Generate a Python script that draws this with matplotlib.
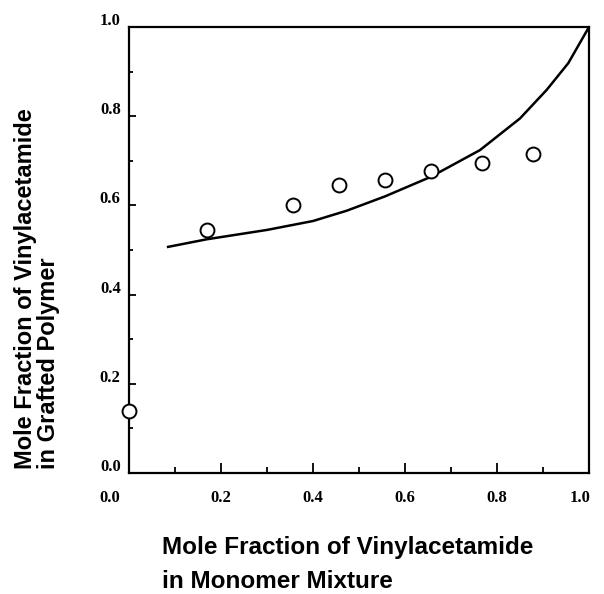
import matplotlib
matplotlib.use("Agg")
from matplotlib import pyplot as plt
from matplotlib.transforms import ScaledTranslation
from matplotlib.ticker import MultipleLocator
import numpy as np

# measured points: monomer feed fraction vs. fraction in grafted polymer
feed_x = [0.0, 0.169, 0.357, 0.456, 0.556, 0.656, 0.768, 0.879]
graft_y = [0.139, 0.545, 0.602, 0.646, 0.657, 0.677, 0.694, 0.715]

# calculated curve
curve_x = [0.085, 0.169, 0.30, 0.40, 0.473, 0.556, 0.656, 0.763, 0.85, 0.908, 0.955, 1.0]
curve_y = [0.507, 0.524, 0.545, 0.565, 0.588, 0.620, 0.664, 0.724, 0.795, 0.859, 0.919, 1.0]

xticks = [0.0, 0.2, 0.4, 0.6, 0.8, 1.0]
yticks = [0.0, 0.2, 0.4, 0.6, 0.8, 1.0]

fig = plt.figure(figsize=(6.04, 5.94), dpi=100)
ax = fig.add_axes([129/604, 1 - 473/594, 460/604, 446/594])

ax.plot(curve_x, curve_y, color='black', lw=1.8)
ax.plot(feed_x, graft_y, 'o', mfc='white', mec='black', ms=10, mew=1.4,
        clip_on=False, zorder=5)

ax.set_xlim(0, 1)
ax.set_ylim(0, 1)
ax.set_xticks(xticks)
ax.set_yticks(yticks)
ax.set_xticklabels([f'{v:.1f}' for v in xticks])
ax.set_yticklabels([f'{v:.1f}' for v in yticks])
ax.xaxis.set_minor_locator(MultipleLocator(0.1))
ax.yaxis.set_minor_locator(MultipleLocator(0.1))

for s in ax.spines.values():
    s.set_linewidth(1.6)

ax.tick_params(axis='x', which='major', direction='in', length=7, width=1.3, pad=12)
ax.tick_params(axis='x', which='minor', direction='in', length=4, width=1.3)
ax.tick_params(axis='y', which='major', direction='in', length=5, width=1.3, pad=6)
ax.tick_params(axis='y', which='minor', direction='in', length=3, width=1.3)

for lab in ax.get_xticklabels() + ax.get_yticklabels():
    lab.set_fontfamily('Liberation Serif')
    lab.set_fontweight('bold')
    lab.set_fontsize(12)

# labels sit a bit above their ticks in the original
for lab in ax.get_yticklabels():
    lab.set_transform(lab.get_transform() + ScaledTranslation(0, 8/100, fig.dpi_scale_trans))
xl = ax.get_xticklabels()
xl[0].set_transform(xl[0].get_transform() + ScaledTranslation(-19/100, 0, fig.dpi_scale_trans))
xl[-1].set_transform(xl[-1].get_transform() + ScaledTranslation(-9/100, 0, fig.dpi_scale_trans))

lab_font = dict(family='Liberation Sans', weight='bold', size=17.5)
fig.text(162/604, 1 - 554/594, 'Mole Fraction of Vinylacetamide', ha='left', va='baseline', **lab_font)
fig.text(162/604, 1 - 588/594, 'in Monomer Mixture', ha='left', va='baseline', **lab_font)

ylab_font = dict(lab_font, size=17)
fig.text(37/604, 1 - 469/594, 'Mole Fraction of Vinylacetamide\nin Grafted Polymer',
         rotation=90, ha='center', va='bottom', multialignment='left',
         linespacing=1.0, **ylab_font)

fig.savefig('out.png', dpi=100)
